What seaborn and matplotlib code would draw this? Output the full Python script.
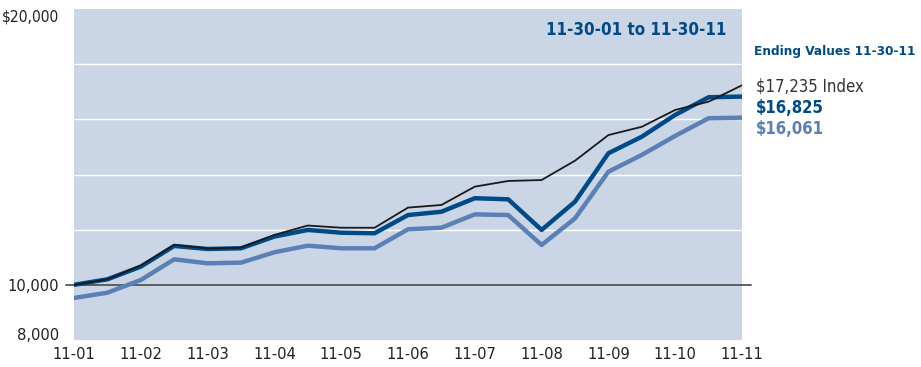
import matplotlib
matplotlib.use("Agg")
import matplotlib.pyplot as plt
import seaborn as sns
import pandas as pd

# ---- data ----
periods = list(range(21))  # semi-annual points 11-01 .. 11-11
tick_labels = ["11-01", "11-02", "11-03", "11-04", "11-05", "11-06",
               "11-07", "11-08", "11-09", "11-10", "11-11"]
index_vals = [10000, 10200, 10700, 11450, 11320, 11350, 11810, 12150, 12070, 12070,
              12800, 12895, 13560, 13765, 13800, 14500, 15430, 15730, 16340, 16640, 17235]
fund_vals = [10000, 10200, 10660, 11410, 11300, 11325, 11750, 11990, 11890, 11870,
             12530, 12650, 13140, 13100, 11990, 13015, 14770, 15370, 16160, 16800, 16825]
fund_sc_vals = [9525, 9715, 10175, 10925, 10780, 10805, 11180, 11420, 11325, 11325,
                12015, 12070, 12555, 12530, 11445, 12410, 14100, 14710, 15400, 16040, 16061]
series_names = ["Fund (with sales charge)", "Fund", "Index"]
ending_labels = ["$17,235 Index", "$16,825", "$16,061"]
y_ticks = [8000, 10000, 12000, 14000, 16000, 18000, 20000]
y_tick_labels = ["8,000", "10,000", "", "", "", "", "$20,000"]

df = pd.concat([
    pd.DataFrame({"period": periods, "value": fund_sc_vals, "series": series_names[0]}),
    pd.DataFrame({"period": periods, "value": fund_vals, "series": series_names[1]}),
    pd.DataFrame({"period": periods, "value": index_vals, "series": series_names[2]}),
])

BG = "#CAD6E6"
DARK = "#004B87"
LIGHT = "#5A80B5"
BLACK = "#1a1a1a"

sns.set_theme(style="white")
plt.rcParams["font.family"] = ["DejaVu Sans"]
plt.rcParams["font.stretch"] = "condensed"

fig = plt.figure(figsize=(9.21, 3.67), dpi=100)
ax = fig.add_axes([74 / 921, 1 - 340 / 367, (742 - 74) / 921, (340 - 9) / 367])
ax.set_facecolor(BG)

# gridlines
for y in y_ticks[2:-1]:
    ax.axhline(y, color="white", lw=1.0, zorder=1)
ax.axhline(10000, color="#555555", lw=1.3, zorder=2, xmin=-0.012, xmax=1.013, clip_on=False)

sns.lineplot(data=df, x="period", y="value", hue="series",
             palette={series_names[0]: LIGHT, series_names[1]: DARK, series_names[2]: BLACK},
             size="series", sizes={series_names[0]: 3.2, series_names[1]: 3.2, series_names[2]: 1.3},
             legend=False, ax=ax, zorder=3)

ax.set_xlim(0, 20)
ax.set_ylim(8000, 20000)
ax.set_xticks(periods[::2])
ax.set_xticklabels(tick_labels)
ax.set_yticks(y_ticks)
ax.set_yticklabels(y_tick_labels)
ax.tick_params(axis="both", length=0, labelsize=11.8, colors="#222222")
ax.tick_params(axis="y", pad=11)
ax.tick_params(axis="x", pad=5)
for lbl in ax.get_yticklabels():
    lbl.set_fontstretch("condensed")
    if lbl.get_text() == "8,000":
        lbl.set_va("baseline")
    elif lbl.get_text() == "$20,000":
        lbl.set_va("top")
        lbl.set_fontsize(11.2)
for lbl in ax.get_xticklabels():
    lbl.set_fontstretch("condensed")
ax.set_xlabel("")
ax.set_ylabel("")
for s in ax.spines.values():
    s.set_visible(False)

ax.text(0.976, 0.937, "11-30-01 to 11-30-11", transform=ax.transAxes, ha="right", va="center",
        fontsize=12.2, fontweight="bold", color=DARK, fontstretch="condensed")

fig.text(754 / 921, 1 - 51 / 367, "Ending Values 11-30-11", ha="left", va="center",
         fontsize=9.7, fontweight="bold", color=DARK, fontstretch="condensed")
fig.text(756 / 921, 1 - 86 / 367, ending_labels[0], ha="left", va="center",
         fontsize=12, color="#333333", fontstretch="condensed")
fig.text(756 / 921, 1 - 108 / 367, ending_labels[1], ha="left", va="center",
         fontsize=12, fontweight="bold", color=DARK, fontstretch="condensed")
fig.text(756 / 921, 1 - 129 / 367, ending_labels[2], ha="left", va="center",
         fontsize=12, fontweight="bold", color=LIGHT, fontstretch="condensed")

fig.savefig("out.png", dpi=100, facecolor="white")
